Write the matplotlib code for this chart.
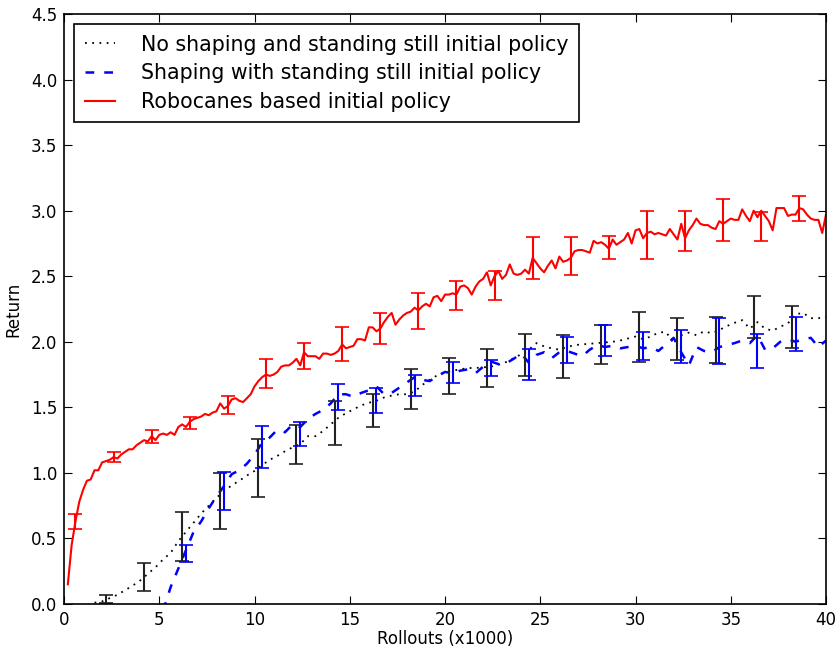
import numpy as np
import matplotlib
matplotlib.use('Agg')
import matplotlib.pyplot as plt

# Robocanes based initial policy (red), every 0.2 rollouts x1000
x_red = np.arange(1, 201) * 0.2
y_red = [0.15, 0.45, 0.63, 0.78, 0.87, 0.94, 0.95, 1.02, 1.02, 1.08,
         1.09, 1.10, 1.12, 1.11, 1.14, 1.16, 1.18, 1.18, 1.21, 1.23,
         1.25, 1.24, 1.28, 1.25, 1.29, 1.30, 1.29, 1.31, 1.29, 1.35,
         1.37, 1.35, 1.39, 1.41, 1.42, 1.43, 1.45, 1.44, 1.46, 1.47,
         1.53, 1.49, 1.51, 1.56, 1.57, 1.55, 1.54, 1.57, 1.60, 1.66,
         1.70, 1.73, 1.75, 1.74, 1.75, 1.77, 1.81, 1.82, 1.82, 1.84,
         1.87, 1.82, 1.92, 1.89, 1.89, 1.89, 1.87, 1.91, 1.91, 1.90,
         1.91, 1.93, 1.98, 1.95, 1.96, 1.97, 2.02, 2.02, 2.01, 2.11,
         2.11, 2.08, 2.10, 2.15, 2.19, 2.22, 2.13, 2.17, 2.20, 2.22,
         2.23, 2.26, 2.24, 2.27, 2.29, 2.27, 2.34, 2.35, 2.31, 2.36,
         2.36, 2.37, 2.36, 2.42, 2.43, 2.41, 2.36, 2.42, 2.46, 2.48,
         2.53, 2.43, 2.50, 2.54, 2.48, 2.51, 2.59, 2.52, 2.51, 2.52,
         2.55, 2.52, 2.64, 2.60, 2.56, 2.53, 2.58, 2.62, 2.56, 2.65,
         2.61, 2.62, 2.64, 2.69, 2.70, 2.70, 2.69, 2.68, 2.77, 2.75,
         2.76, 2.74, 2.71, 2.78, 2.74, 2.76, 2.78, 2.83, 2.75, 2.85,
         2.86, 2.79, 2.83, 2.84, 2.82, 2.83, 2.82, 2.81, 2.86, 2.82,
         2.78, 2.90, 2.79, 2.85, 2.89, 2.94, 2.90, 2.89, 2.89, 2.87,
         2.86, 2.92, 2.90, 2.92, 2.94, 2.93, 2.93, 3.01, 2.96, 2.92,
         3.00, 2.95, 3.00, 2.96, 2.92, 2.85, 3.02, 3.02, 3.02, 2.96,
         2.97, 2.97, 3.02, 3.01, 2.97, 2.94, 2.93, 2.93, 2.83, 2.97]

# No shaping, standing still initial policy (black dotted), every 0.4
x_black = np.arange(4, 101) * 0.4
y_black = [0.01, 0.02, 0.045, 0.07, 0.105, 0.14, 0.18, 0.23, 0.28, 0.34,
           0.39, 0.48, 0.55, 0.62, 0.69, 0.75, 0.81, 0.86, 0.905, 0.94,
           0.98, 1.015, 1.06, 1.10, 1.13, 1.165, 1.195, 1.22, 1.28, 1.28,
           1.32, 1.37, 1.42, 1.455, 1.485, 1.515, 1.535, 1.55, 1.575, 1.59,
           1.60, 1.60, 1.62, 1.67, 1.71, 1.745, 1.765, 1.78, 1.79, 1.80,
           1.80, 1.805, 1.81, 1.825, 1.845, 1.875, 1.905, 1.94, 1.99, 1.965,
           1.95, 1.94, 1.96, 1.975, 1.98, 1.985, 1.99, 1.995, 2.00, 2.01,
           2.025, 2.04, 2.02, 2.04, 2.07, 2.075, 1.99, 2.05, 2.07, 2.05,
           2.08, 2.065, 2.09, 2.12, 2.145, 2.165, 2.10, 2.15, 2.10, 2.085,
           2.115, 2.14, 2.21, 2.22, 2.18, 2.18, 2.19]

# Shaping with standing still initial policy (blue dashed), every 0.4
x_blue = np.arange(13, 101) * 0.4
y_blue = [-0.05, 0.13, 0.27, 0.41, 0.55, 0.63, 0.73, 0.82, 0.90, 0.99,
          1.02, 1.07, 1.14, 1.23, 1.27, 1.33, 1.31, 1.37, 1.35, 1.41,
          1.45, 1.48, 1.53, 1.60, 1.60, 1.58, 1.61, 1.63, 1.66, 1.60,
          1.61, 1.65, 1.69, 1.73, 1.71, 1.70, 1.74, 1.77, 1.76, 1.78,
          1.79, 1.76, 1.81, 1.85, 1.83, 1.835, 1.87, 1.91, 1.84, 1.90,
          1.92, 1.875, 1.92, 1.93, 1.91, 1.89, 1.94, 1.975, 1.96, 1.97,
          1.95, 1.96, 1.97, 1.95, 1.96, 1.93, 1.98, 2.03, 1.92, 1.82,
          1.96, 1.93, 1.92, 1.96, 1.975, 1.99, 2.01, 1.99, 2.05, 1.94,
          1.95, 2.00, 2.02, 2.00, 2.02, 2.03, 1.96, 2.01]

# error bars (centre, half width)
ex_red = np.arange(20) * 2 + 0.6
ey_red = [0.63, 1.12, 1.28, 1.38, 1.52, 1.76, 1.89, 1.98, 2.10, 2.235,
          2.35, 2.43, 2.64, 2.655, 2.72, 2.815, 2.845, 2.93, 2.88, 3.015]
ee_red = [0.06, 0.04, 0.05, 0.045, 0.07, 0.11, 0.10, 0.13, 0.12, 0.135,
          0.11, 0.11, 0.16, 0.145, 0.09, 0.185, 0.155, 0.16, 0.11, 0.095]

ex_black = np.arange(19) * 2 + 2.2
ey_black = [0.04, 0.205, 0.515, 0.785, 1.04, 1.215, 1.38, 1.475, 1.64, 1.74,
            1.80, 1.90, 1.89, 1.98, 2.035, 2.02, 2.015, 2.19, 2.11]
ee_black = [0.03, 0.105, 0.185, 0.215, 0.22, 0.15, 0.17, 0.125, 0.155, 0.135,
            0.146, 0.163, 0.163, 0.15, 0.19, 0.16, 0.177, 0.16, 0.16]

ex_blue = np.arange(17) * 2 + 6.4
ey_blue = [0.385, 0.86, 1.196, 1.30, 1.58, 1.55, 1.67, 1.765, 1.80, 1.825,
           1.94, 2.01, 1.97, 1.963, 2.005, 1.93, 2.06]
ee_blue = [0.065, 0.145, 0.16, 0.092, 0.10, 0.095, 0.08, 0.082, 0.064, 0.117,
           0.10, 0.115, 0.108, 0.127, 0.174, 0.13, 0.13]

labels = ['No shaping and standing still initial policy',
          'Shaping with standing still initial policy',
          'Robocanes based initial policy']

fig = plt.figure(figsize=(8.38, 6.52), dpi=100)
ax = fig.add_axes([0.0764, 0.0736, 0.9093, 0.9049])

ax.plot(x_black, y_black, color='k', lw=1.3, dashes=(1, 3), label=labels[0])
ax.plot(x_blue, y_blue, color='b', lw=1.8, dashes=(3.5, 4), label=labels[1])
ax.plot(x_red, y_red, color='r', lw=1.5, label=labels[2])

ax.errorbar(ex_black, ey_black, yerr=ee_black, fmt='none', ecolor='#222222',
            elinewidth=1.5, capsize=5, capthick=1.2)
ax.errorbar(ex_blue, ey_blue, yerr=ee_blue, fmt='none', ecolor='b',
            elinewidth=1.5, capsize=5, capthick=1.2)
ax.errorbar(ex_red, ey_red, yerr=ee_red, fmt='none', ecolor='r',
            elinewidth=1.5, capsize=5, capthick=1.2)

ax.set_xlim(0, 40)
ax.set_ylim(0, 4.5)
ax.set_xticks(np.arange(0, 41, 5))
ax.set_yticks(np.arange(0, 4.51, 0.5))
ax.set_xticklabels([str(v) for v in range(0, 41, 5)])
ax.tick_params(direction='in', top=True, right=True, length=6, labelsize=12, pad=5)
for s in ax.spines.values():
    s.set_linewidth(1.2)

ax.set_xlabel('Rollouts (x1000)', fontsize=12, labelpad=1)
ax.set_ylabel('Return', fontsize=12, labelpad=6)

leg = ax.legend(loc='upper left', fontsize=14.8, fancybox=False, framealpha=1,
                edgecolor='k', handlelength=1.5, handletextpad=1.25,
                borderpad=0.5, labelspacing=0.42, borderaxespad=0.5)
leg.get_frame().set_linewidth(1.2)

fig.savefig('out.png', dpi=100)
